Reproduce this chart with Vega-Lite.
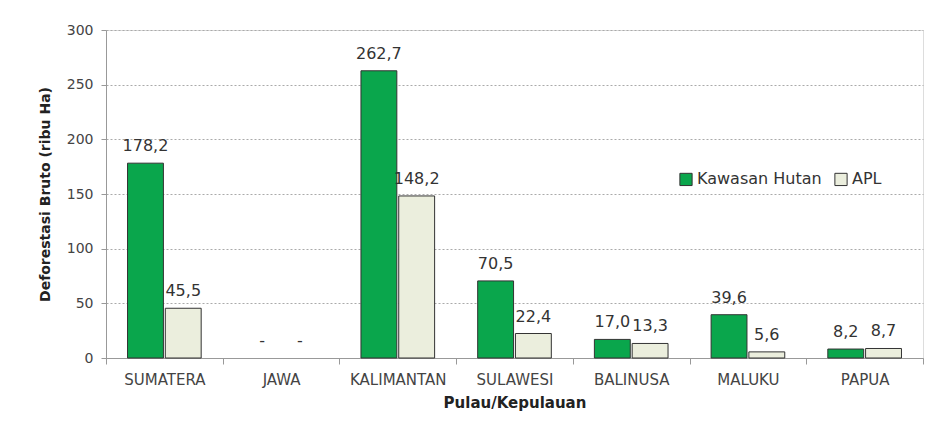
{
  "$schema": "https://vega.github.io/schema/vega-lite/v6.json",
  "width": 817,
  "height": 328,
  "autosize": "none",
  "padding": {"left": 106, "top": 30, "right": 19, "bottom": 65},
  "background": "white",
  "data": {
    "values": [
      {"pulau": "SUMATERA", "jenis": "Kawasan Hutan", "nilai": 178.2, "label": "178,2"},
      {"pulau": "SUMATERA", "jenis": "APL", "nilai": 45.5, "label": "45,5"},
      {"pulau": "JAWA", "jenis": "Kawasan Hutan", "nilai": 0, "label": "-"},
      {"pulau": "JAWA", "jenis": "APL", "nilai": 0, "label": "-"},
      {"pulau": "KALIMANTAN", "jenis": "Kawasan Hutan", "nilai": 262.7, "label": "262,7"},
      {"pulau": "KALIMANTAN", "jenis": "APL", "nilai": 148.2, "label": "148,2"},
      {"pulau": "SULAWESI", "jenis": "Kawasan Hutan", "nilai": 70.5, "label": "70,5"},
      {"pulau": "SULAWESI", "jenis": "APL", "nilai": 22.4, "label": "22,4"},
      {"pulau": "BALINUSA", "jenis": "Kawasan Hutan", "nilai": 17.0, "label": "17,0"},
      {"pulau": "BALINUSA", "jenis": "APL", "nilai": 13.3, "label": "13,3"},
      {"pulau": "MALUKU", "jenis": "Kawasan Hutan", "nilai": 39.6, "label": "39,6"},
      {"pulau": "MALUKU", "jenis": "APL", "nilai": 5.6, "label": "5,6"},
      {"pulau": "PAPUA", "jenis": "Kawasan Hutan", "nilai": 8.2, "label": "8,2"},
      {"pulau": "PAPUA", "jenis": "APL", "nilai": 8.7, "label": "8,7"}
    ]
  },
  "encoding": {
    "x": {
      "field": "pulau", "type": "nominal",
      "sort": ["SUMATERA", "JAWA", "KALIMANTAN", "SULAWESI", "BALINUSA", "MALUKU", "PAPUA"],
      "scale": {"domain": ["SUMATERA", "JAWA", "KALIMANTAN", "SULAWESI", "BALINUSA", "MALUKU", "PAPUA"], "paddingInner": 0, "paddingOuter": 0},
      "axis": {
        "title": "Pulau/Kepulauan", "titleFont": "DejaVu Sans", "titleFontSize": 15, "titleFontWeight": "bold", "titleColor": "#222", "titlePadding": 8,
        "labelAngle": 0, "labelFont": "DejaVu Sans", "labelFontSize": 15, "labelColor": "#444", "labelPadding": 8,
        "tickBand": "extent", "tickSize": 6, "tickColor": "#999", "domainColor": "#999", "grid": false
      }
    },
    "xOffset": {"field": "jenis", "type": "nominal", "sort": ["Kawasan Hutan", "APL"], "scale": {"domain": ["Kawasan Hutan", "APL"], "paddingInner": 0.05, "paddingOuter": 0.57}},
    "y": {
      "field": "nilai", "type": "quantitative",
      "scale": {"domain": [0, 300], "nice": false},
      "axis": {
        "title": "Deforestasi Bruto (ribu Ha)", "titleFont": "DejaVu Sans", "titleFontSize": 14, "titleFontWeight": "bold", "titleColor": "#222", "titlePadding": 14,
        "values": [0, 50, 100, 150, 200, 250, 300], "labelFont": "DejaVu Sans", "labelFontSize": 14, "labelColor": "#444", "labelPadding": 8,
        "tickSize": 5, "tickColor": "#999", "domainColor": "#999",
        "gridColor": "#aaa", "gridDash": [2, 2], "gridWidth": 1
      }
    }
  },
  "layer": [
    {
      "transform": [{"filter": "datum.nilai > 0"}],
      "mark": {"type": "bar", "stroke": "#333", "strokeWidth": 1},
      "encoding": {
        "color": {
          "field": "jenis", "type": "nominal", "sort": ["Kawasan Hutan", "APL"],
          "scale": {"domain": ["Kawasan Hutan", "APL"], "range": ["#0aa64c", "#ebeedd"]},
          "legend": {
            "title": null, "orient": "none", "direction": "horizontal", "legendX": 572, "legendY": 141,
            "symbolType": "square", "symbolSize": 150, "symbolStrokeColor": "#333", "symbolStrokeWidth": 1,
            "labelFont": "DejaVu Sans", "labelFontSize": 16, "labelColor": "#333", "columnPadding": 10, "labelOffset": 3
          }
        }
      }
    },
    {
      "mark": {"type": "text", "baseline": "bottom", "dy": -9, "font": "DejaVu Sans", "fontSize": 16, "color": "#333"},
      "encoding": {"text": {"field": "label"}}
    }
  ]
}
